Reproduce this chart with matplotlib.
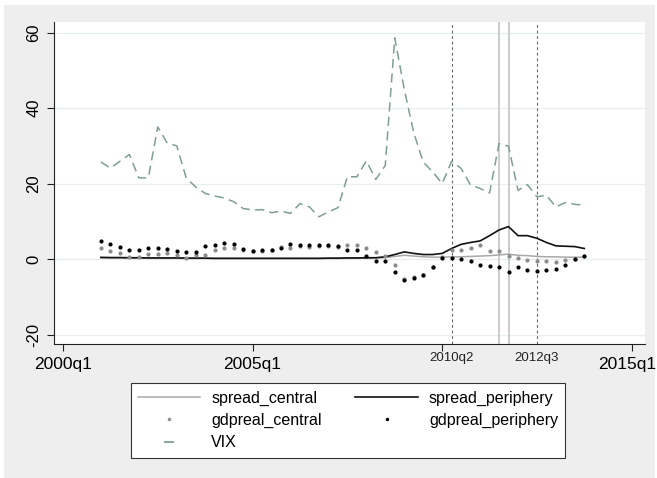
import numpy as np
import matplotlib
matplotlib.use("Agg")
import matplotlib.pyplot as plt
from matplotlib.lines import Line2D
from matplotlib.patches import Rectangle
from matplotlib.transforms import blended_transform_factory, ScaledTranslation

plt.rcParams['font.family'] = ['Liberation Sans', 'DejaVu Sans']

# quarterly data, 2001q1 .. 2013q4 (x = quarters since 2000q1)
first_q = 4
vix = [25.7, 24.1, 25.9, 27.7, 21.5, 21.5, 35.0, 30.7, 30.0, 21.5, 19.1, 17.4, 16.7,
       16.2, 15.2, 13.4, 13.0, 13.1, 12.3, 12.7, 12.1, 14.7, 13.8, 11.2, 12.5, 13.6,
       21.8, 21.8, 26.0, 21.1, 24.8, 58.6, 45.0, 33.5, 25.7, 23.1, 20.0, 25.9, 24.0,
       19.6, 18.7, 17.5, 30.6, 29.9, 18.2, 19.7, 16.5, 16.9, 13.8, 15.0, 14.5, 14.3]
gdpreal_periphery = [4.9, 4.1, 3.1, 2.4, 2.4, 2.8, 3.0, 2.6, 2.2, 1.9, 2.0, 3.4, 3.7,
                     4.3, 4.1, 2.6, 2.2, 2.3, 2.3, 2.8, 3.9, 3.6, 3.7, 3.7, 3.6, 3.4,
                     2.3, 2.4, 0.9, -0.4, -0.4, -3.4, -5.5, -4.9, -4.3, -2.2, 0.4, 0.2, -0.1,
                     -0.4, -1.7, -1.8, -2.2, -3.3, -2.0, -2.9, -3.2, -2.9, -2.6, -1.7, 0.1, 0.7]
gdpreal_central = [2.8, 2.2, 1.5, 0.5, 0.6, 1.3, 1.3, 1.5, 1.0, 0.4, 1.1, 1.1, 2.4,
                   2.9, 2.8, 2.5, 2.1, 2.2, 2.3, 3.1, 3.0, 3.5, 3.3, 3.5, 3.4, 3.3,
                   3.6, 3.6, 2.8, 1.8, 0.8, -1.6, -5.4, -4.8, -4.2, -2.1, 0.5, 2.5, 2.4,
                   2.8, 3.7, 2.2, 2.2, 0.9, 0.2, -0.2, -0.4, -0.6, -0.9, -0.2, 0.1, 0.7]
spread_periphery = [0.45, 0.4, 0.4, 0.35, 0.35, 0.3, 0.3, 0.3, 0.3, 0.25, 0.25, 0.25, 0.2,
                    0.2, 0.2, 0.2, 0.2, 0.2, 0.2, 0.2, 0.2, 0.2, 0.2, 0.2, 0.25, 0.25,
                    0.3, 0.3, 0.35, 0.35, 0.6, 1.2, 1.9, 1.5, 1.2, 1.2, 1.5, 2.8, 3.9,
                    4.4, 4.8, 6.2, 7.7, 8.6, 6.2, 6.2, 5.5, 4.4, 3.5, 3.4, 3.3, 2.8]
spread_central = [0.3, 0.3, 0.3, 0.25, 0.25, 0.2, 0.2, 0.2, 0.2, 0.15, 0.15, 0.15, 0.1,
                  0.1, 0.1, 0.1, 0.1, 0.1, 0.1, 0.1, 0.1, 0.1, 0.1, 0.1, 0.15, 0.15,
                  0.2, 0.2, 0.25, 0.3, 0.4, 0.7, 1.0, 0.8, 0.6, 0.5, 0.5, 0.6, 0.6,
                  0.7, 0.8, 0.9, 1.1, 1.3, 1.0, 0.9, 0.7, 0.6, 0.6, 0.5, 0.5, 0.5]

xticks = [0, 20, 40, 60]
xtick_labels = ['2000q1', '2005q1', '', '2015q1']
yticks = [-20, 0, 20, 40, 60]
event_q = [41, 50]                 # dashed xlines
event_labels = ['2010q2', '2012q3']
solid_q = [46, 47]                 # solid xlines

q = first_q + np.arange(len(vix))
vix_color = '#7f9e95'

fig = plt.figure(figsize=(6.57, 4.78), dpi=100)
fig.patches.append(Rectangle((4/657, 0), 651/657, 473/478, transform=fig.transFigure,
                             facecolor='#eeeeee', edgecolor='none', zorder=-5))
ax = fig.add_axes([54/657, 1 - 344/478, 591/657, 322/478])
ax.set_zorder(2)
ax.set_xlim(-0.95, 61.4)
ax.set_ylim(-22.5, 62.8)

for s in ['top', 'right']:
    ax.spines[s].set_visible(False)
for s in ['left', 'bottom']:
    ax.spines[s].set_color('#222222')
    ax.spines[s].set_linewidth(0.8)
ax.yaxis.grid(True, color='#e6eef0', lw=0.9)
ax.set_axisbelow(True)

for x in event_q:
    ax.axvline(x, color='#666666', lw=0.8, dashes=(2.5, 2.5), zorder=1.5)
for x in solid_q:
    ax.axvline(x, color='#c8c8c8', lw=1.3, zorder=1.5)

ax.plot(q, spread_central, color='#a8a8a8', lw=1.1, zorder=3)
ax.plot(q, spread_periphery, color='#111111', lw=1.2, zorder=3)
ax.plot(q, gdpreal_central, 'o', ms=3, color='#8c8c8c', mew=0, zorder=4)
ax.plot(q, gdpreal_periphery, 'o', ms=3, color='black', mew=0, zorder=4)
ax.plot(q, vix, color=vix_color, lw=1.1, dashes=(6, 3.5), zorder=4)

ax.set_xticks(xticks)
ax.set_xticklabels(xtick_labels, fontsize=12.5)
ax.set_yticks(yticks)
ax.set_yticklabels([str(v) for v in yticks], fontsize=12, rotation=90, va='center')
ax.tick_params(direction='out', length=5, width=0.8, color='#222222')
ax.tick_params(axis='x', pad=4)
ax.tick_params(axis='y', pad=4)

# nudge the last label so it stays inside the picture
last = ax.get_xticklabels()[-1]
last.set_transform(last.get_transform() + ScaledTranslation(-5/100, 0, fig.dpi_scale_trans))

trans = blended_transform_factory(ax.transData, ax.transAxes)
for x, lab in zip(event_q, event_labels):
    ax.annotate(lab, xy=(x, 0), xycoords=trans, xytext=(0, -6), textcoords='offset points',
                ha='center', va='top', fontsize=9.5, color='#222222', annotation_clip=False)

handles = [Line2D([], [], color='#a8a8a8', lw=1.1),
           Line2D([], [], ls='none', marker='o', ms=2.5, mew=0, color='#8c8c8c'),
           Line2D([], [], ls='none', marker='_', ms=7, mew=1.3, color=vix_color),
           Line2D([], [], color='#111111', lw=1.2),
           Line2D([], [], ls='none', marker='o', ms=2.5, mew=0, color='black')]
labels = ['spread_central', 'gdpreal_central', 'VIX', 'spread_periphery', 'gdpreal_periphery']
leg = fig.legend(handles, labels, ncol=2, loc='center', bbox_to_anchor=(348/657, 1 - 420.5/478),
                 fontsize=11.5, frameon=True, fancybox=False, framealpha=1,
                 edgecolor='#333333', borderpad=0.45, handlelength=3.9, handletextpad=0.7,
                 columnspacing=2.1, labelspacing=0.45, numpoints=1)
leg.get_frame().set_linewidth(0.8)

plt.savefig('out.png', dpi=100)
